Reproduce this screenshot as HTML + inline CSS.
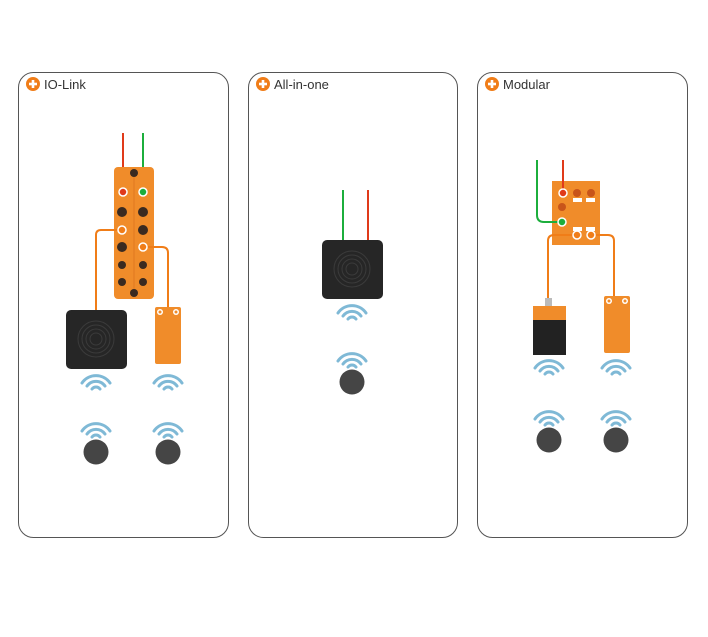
<!DOCTYPE html>
<html><head><style>body{margin:0;background:#fff}svg{display:block}</style></head><body>
<svg width="708" height="637" viewBox="0 0 708 637" xmlns="http://www.w3.org/2000/svg" font-family="Liberation Sans, sans-serif">
<defs>
<g id="plus"><circle r="7" fill="#f07d18"/><rect x="-4" y="-1.3" width="8" height="2.6" fill="#fff"/><rect x="-1.3" y="-4" width="2.6" height="8" fill="#fff"/></g>
<g id="wave" fill="none" stroke="#7fb9d6" stroke-width="3" stroke-linecap="round">
<path d="M-4,-3 A5,5 0 0 1 4,-3"/><path d="M-9,-6 A11,11 0 0 1 9,-6"/><path d="M-14,-9 A17,17 0 0 1 14,-9"/>
</g>
<g id="tag"><use href="#wave" y="4"/><circle cy="16" r="12.5" fill="#454545"/></g>
<g id="reader"><rect x="0" y="0" width="61" height="59" rx="5" fill="#262626"/>
<g fill="none" stroke="#3b3b3b" stroke-width="1"><circle cx="30" cy="29" r="6"/><circle cx="30" cy="29" r="10"/><circle cx="30" cy="29" r="14"/><circle cx="30" cy="29" r="18"/></g></g>
<g id="osens"><rect width="26" height="57" rx="2" fill="#f08c2a"/><circle cx="5" cy="5" r="3" fill="#fff"/><circle cx="21" cy="5" r="3" fill="#fff"/><circle cx="5" cy="5" r="1.5" fill="#f08c2a"/><circle cx="21" cy="5" r="1.5" fill="#f08c2a"/></g>
</defs>
<g fill="none" stroke="#555" stroke-width="1">
<rect x="18.5" y="72.5" width="210" height="465" rx="15"/>
<rect x="248.5" y="72.5" width="209" height="465" rx="15"/>
<rect x="477.5" y="72.5" width="210" height="465" rx="15"/>
</g>
<use href="#plus" x="33" y="84"/><text x="44" y="89" font-size="13" fill="#333">IO-Link</text>
<use href="#plus" x="263" y="84"/><text x="274" y="89" font-size="13" fill="#333">All-in-one</text>
<use href="#plus" x="492" y="84"/><text x="503" y="89" font-size="13" fill="#333">Modular</text>

<!-- Panel 1 -->
<line x1="123" y1="133" x2="123" y2="192" stroke="#e03a1a" stroke-width="2"/>
<line x1="143" y1="133" x2="143" y2="192" stroke="#1cae3c" stroke-width="2"/>
<rect x="114" y="167" width="40" height="132" rx="4" fill="#f08c2a"/>
<line x1="134" y1="170" x2="134" y2="296" stroke="#e07820" stroke-width="1"/>
<g fill="#3a2a20">
<circle cx="122" cy="212" r="5"/><circle cx="143" cy="212" r="5"/>
<circle cx="143" cy="230" r="5"/><circle cx="122" cy="247" r="5"/>
<circle cx="122" cy="265" r="4"/><circle cx="143" cy="265" r="4"/>
<circle cx="122" cy="282" r="4"/><circle cx="143" cy="282" r="4"/>
<circle cx="134" cy="173" r="4"/><circle cx="134" cy="293" r="4"/></g>
<circle cx="123" cy="192" r="4" fill="#e03a1a" stroke="#fff" stroke-width="1.5"/>
<circle cx="143" cy="192" r="4" fill="#1cae3c" stroke="#fff" stroke-width="1.5"/>
<path d="M122,230 H101 Q96,230 96,235 V310" fill="none" stroke="#f07d18" stroke-width="2"/>
<path d="M143,247 H162 Q168,247 168,253 V308" fill="none" stroke="#f07d18" stroke-width="2"/>
<circle cx="122" cy="230" r="4" fill="#f07d18" stroke="#fff" stroke-width="1.5"/>
<circle cx="143" cy="247" r="4" fill="#f07d18" stroke="#fff" stroke-width="1.5"/>
<use href="#reader" x="66" y="310"/>
<use href="#osens" x="155" y="307"/>
<use href="#wave" x="96" y="392"/><use href="#wave" x="168" y="392"/>
<use href="#tag" x="96" y="436"/><use href="#tag" x="168" y="436"/>

<!-- Panel 2 -->
<line x1="343" y1="190" x2="343" y2="243" stroke="#1cae3c" stroke-width="2"/>
<line x1="368" y1="190" x2="368" y2="243" stroke="#e03a1a" stroke-width="2"/>
<use href="#reader" x="322" y="240"/>
<use href="#wave" x="352" y="322"/>
<use href="#tag" x="352" y="366"/>

<!-- Panel 3 -->
<rect x="552" y="181" width="48" height="64" fill="#f08c2a"/>
<g fill="#c8541a"><circle cx="577" cy="193" r="4"/><circle cx="591" cy="193" r="4"/><circle cx="562" cy="207" r="4"/></g>
<g fill="#fff"><rect x="573" y="198" width="9" height="4"/><rect x="586" y="198" width="9" height="4"/><rect x="573" y="227" width="9" height="4"/><rect x="586" y="227" width="9" height="4"/></g>
<line x1="563" y1="160" x2="563" y2="193" stroke="#e03a1a" stroke-width="2"/>
<circle cx="563" cy="193" r="4" fill="#e03a1a" stroke="#fff" stroke-width="1.5"/>
<path d="M537,160 V215 Q537,222 544,222 H562" fill="none" stroke="#1cae3c" stroke-width="2"/>
<circle cx="562" cy="222" r="4" fill="#1cae3c" stroke="#fff" stroke-width="1.5"/>
<path d="M577,235 H554 Q548,235 548,241 V300" fill="none" stroke="#f07d18" stroke-width="2"/>
<path d="M591,235 H608 Q614,235 614,241 V297" fill="none" stroke="#f07d18" stroke-width="2"/>
<circle cx="577" cy="235" r="4" fill="#f07d18" stroke="#fff" stroke-width="1.5"/>
<circle cx="591" cy="235" r="4" fill="#f07d18" stroke="#fff" stroke-width="1.5"/>
<rect x="545" y="298" width="7" height="9" fill="#bbb"/>
<rect x="533" y="318" width="33" height="37" fill="#222"/>
<rect x="533" y="306" width="33" height="14" fill="#f08c2a"/>
<use href="#osens" x="604" y="296"/>
<use href="#wave" x="549" y="377"/><use href="#wave" x="616" y="377"/>
<use href="#tag" x="549" y="424"/><use href="#tag" x="616" y="424"/>
</svg>
</body></html>
